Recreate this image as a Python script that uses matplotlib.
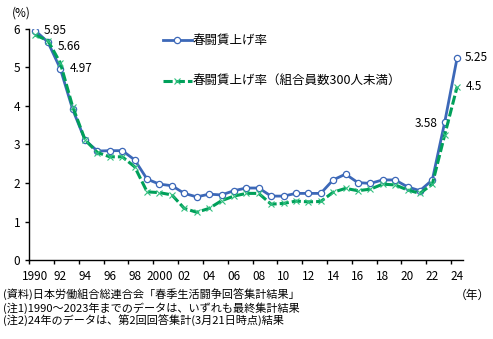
import matplotlib
matplotlib.use('Agg')
import matplotlib.pyplot as plt
import numpy as np

plt.rcParams['font.family'] = ['Noto Sans CJK JP', 'DejaVu Sans']

# 春闘賃上げ率 (%), 1990-2024
years = list(range(1990, 2025))
wage_all = [5.95, 5.66, 4.97, 3.91, 3.11, 2.83, 2.84, 2.84, 2.60, 2.10,
            1.97, 1.93, 1.73, 1.64, 1.71, 1.69, 1.80, 1.87, 1.87, 1.66,
            1.66, 1.73, 1.73, 1.73, 2.08, 2.23, 2.01, 1.99, 2.08, 2.08,
            1.90, 1.80, 2.08, 3.58, 5.25]
# 組合員数300人未満
wage_small = [5.84, 5.70, 5.12, 3.98, 3.12, 2.79, 2.68, 2.68, 2.42, 1.77,
              1.75, 1.69, 1.34, 1.24, 1.34, 1.54, 1.66, 1.73, 1.73, 1.45,
              1.47, 1.53, 1.51, 1.52, 1.76, 1.86, 1.80, 1.84, 1.97, 1.95,
              1.82, 1.73, 1.97, 3.25, 4.50]
tick_labels = ['1990', '92', '94', '96', '98', '2000', '02', '04', '06', '08',
               '10', '12', '14', '16', '18', '20', '22', '24']

blue = '#3c68b8'
green = '#00a05a'

fig = plt.figure(figsize=(4.93, 3.39), dpi=100)
ax = fig.add_axes([0.0594, 0.233, 0.8804, 0.6815])

x = np.arange(len(years)) + 0.5
ax.plot(x, wage_all, color=blue, lw=2.0, marker='o', ms=4.5,
        mfc='white', mec=blue, mew=0.9, label='春闘賃上げ率', zorder=3)
ax.plot(x, wage_small, color=green, lw=2.2, dashes=(3, 1), marker='x',
        ms=5, mec='#33c080', mew=0.8, label='春闘賃上げ率（組合員数300人未満）',
        zorder=4)

ax.set_xlim(0, len(years))
ax.set_ylim(0, 6)
# tick marks on category boundaries, labels under the category centres
ax.set_xticks(np.arange(0, len(years), 2))
ax.set_xticklabels([])
ax.set_xticks(np.arange(0, len(years), 2) + 0.5, minor=True)
ax.set_xticklabels(tick_labels, minor=True)
ax.set_yticks(range(0, 7))
ax.tick_params(axis='both', labelsize=8.5, length=3, width=1, direction='out')
ax.tick_params(axis='x', which='minor', length=0, pad=7, labelsize=8.5)
for side in ['top', 'right']:
    ax.spines[side].set_visible(False)
for side in ['left', 'bottom']:
    ax.spines[side].set_linewidth(1)

# value labels
def label(series, i, text, dx, dy, ha):
    ax.annotate(text, (x[i], series[i]), xytext=(dx, dy),
                textcoords='offset points', ha=ha, va='center', fontsize=8.5)

label(wage_all, 0, '5.95', 6, 0, 'left')
label(wage_all, 1, '5.66', 7, -3, 'left')
label(wage_all, 2, '4.97', 6.5, 0, 'left')
label(wage_all, 33, '3.58', -5, -1, 'right')
label(wage_all, 34, '5.25', 5.5, 0.5, 'left')
label(wage_small, 34, '4.5', 6, 0, 'left')

leg = ax.legend(loc='upper left', bbox_to_anchor=(163 / 493, 1 - 34 / 339),
                bbox_transform=fig.transFigure, frameon=False, fontsize=9,
                handlelength=2.3, handletextpad=0.05, labelspacing=2.25,
                borderpad=0, borderaxespad=0)

fig.text(12 / 493, 1 - 13 / 339, '(%)', fontsize=8.5, va='center', ha='left')
fig.text(455 / 493, 1 - 295 / 339, '（年）', fontsize=8.5, va='center', ha='left')

notes = ['(資料)日本労働組合総連合会「春季生活闘争回答集計結果」',
         '(注1)1990～2023年までのデータは、いずれも最終集計結果',
         '(注2)24年のデータは、第2回回答集計(3月21日時点)結果']
for k, t in enumerate(notes):
    fig.text(3 / 493, 1 - (295 + 13 * k) / 339, t, fontsize=8,
             va='center', ha='left')

fig.savefig('out.png', dpi=100)
